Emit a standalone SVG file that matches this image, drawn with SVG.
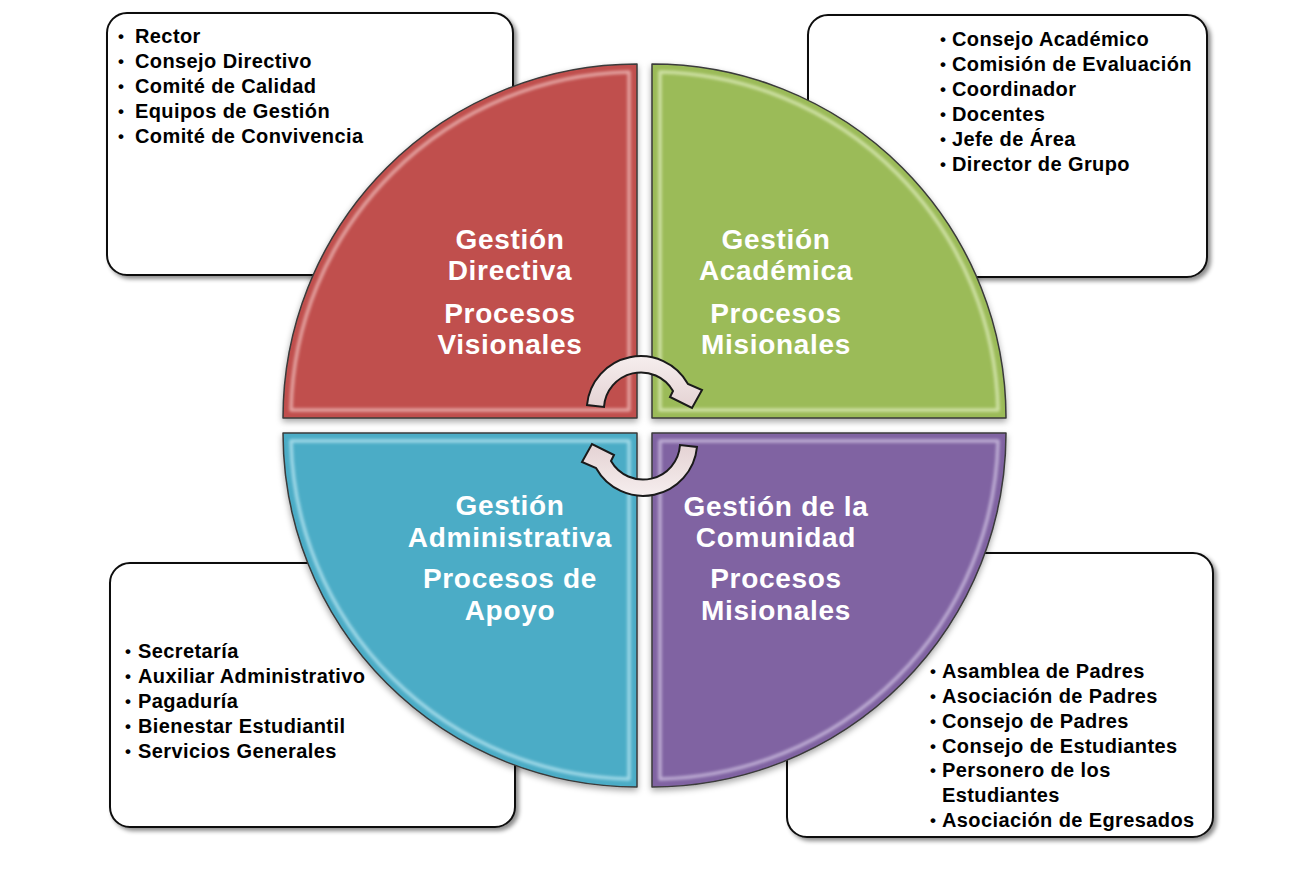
<svg xmlns="http://www.w3.org/2000/svg" width="1292" height="874" viewBox="0 0 1292 874">
  <defs>
    <filter id="boxShadow" x="-5%" y="-5%" width="112%" height="115%">
      <feDropShadow dx="3" dy="3" stdDeviation="2" flood-color="#000" flood-opacity="0.45"/>
    </filter>
    <filter id="quadShadow" x="-5%" y="-5%" width="112%" height="115%">
      <feDropShadow dx="0" dy="3" stdDeviation="3" flood-color="#000" flood-opacity="0.35"/>
    </filter>
    <filter id="soft" x="-5%" y="-5%" width="110%" height="110%">
      <feGaussianBlur stdDeviation="1.4"/>
    </filter>
    <linearGradient id="arrowFill" x1="0" y1="0" x2="0" y2="1">
      <stop offset="0" stop-color="#F6EEEE"/>
      <stop offset="1" stop-color="#E4D2D3"/>
    </linearGradient>
    <style>
      .box { fill: #FFFFFF; stroke: #111111; stroke-width: 2; filter: url(#boxShadow); }
      .item { font-family: "Liberation Sans", Arial, sans-serif; font-size: 20px; font-weight: bold; fill: #000000; letter-spacing: 0.4px; }
      .b { font-size: 17px; }
      .quad { stroke: #3a3a3a; stroke-width: 1.5; stroke-linejoin: round; filter: url(#quadShadow); }
      .hl { fill: none; stroke-width: 3.5; stroke-linejoin: round; opacity: 0.8; filter: url(#soft); }
      .title { font-family: "Liberation Sans", Arial, sans-serif; font-size: 28px; font-weight: bold; fill: #FFFFFF; letter-spacing: 0.7px; text-anchor: middle; }
      .arrow { fill: url(#arrowFill); stroke: #1a1a1a; stroke-width: 2; stroke-linejoin: miter; }
    </style>
  </defs>

  <!-- Lists boxes (behind quadrants) -->
  <g id="list-directiva">
    <rect class="box" x="107" y="13" width="406" height="262" rx="20" ry="20"/>
    <text class="item"><tspan class="b" x="118" y="42">•</tspan><tspan x="135" y="43">Rector</tspan></text>
    <text class="item"><tspan class="b" x="118" y="67">•</tspan><tspan x="135" y="68">Consejo Directivo</tspan></text>
    <text class="item"><tspan class="b" x="118" y="92">•</tspan><tspan x="135" y="93">Comité de Calidad</tspan></text>
    <text class="item"><tspan class="b" x="118" y="117">•</tspan><tspan x="135" y="118">Equipos de Gestión</tspan></text>
    <text class="item"><tspan class="b" x="118" y="142">•</tspan><tspan x="135" y="143">Comité de Convivencia</tspan></text>
  </g>

  <g id="list-academica">
    <rect class="box" x="808" y="15" width="399" height="262" rx="20" ry="20"/>
    <text class="item"><tspan class="b" x="940" y="45">•</tspan><tspan x="952" y="46">Consejo Académico</tspan></text>
    <text class="item"><tspan class="b" x="940" y="70">•</tspan><tspan x="952" y="71">Comisión de Evaluación</tspan></text>
    <text class="item"><tspan class="b" x="940" y="95">•</tspan><tspan x="952" y="96">Coordinador</tspan></text>
    <text class="item"><tspan class="b" x="940" y="120">•</tspan><tspan x="952" y="121">Docentes</tspan></text>
    <text class="item"><tspan class="b" x="940" y="145">•</tspan><tspan x="952" y="146">Jefe de Área</tspan></text>
    <text class="item"><tspan class="b" x="940" y="170">•</tspan><tspan x="952" y="171">Director de Grupo</tspan></text>
  </g>

  <g id="list-administrativa">
    <rect class="box" x="110" y="563" width="405" height="264" rx="20" ry="20"/>
    <text class="item"><tspan class="b" x="125" y="657">•</tspan><tspan x="138" y="658">Secretaría</tspan></text>
    <text class="item"><tspan class="b" x="125" y="682">•</tspan><tspan x="138" y="683">Auxiliar Administrativo</tspan></text>
    <text class="item"><tspan class="b" x="125" y="707">•</tspan><tspan x="138" y="708">Pagaduría</tspan></text>
    <text class="item"><tspan class="b" x="125" y="732">•</tspan><tspan x="138" y="733">Bienestar Estudiantil</tspan></text>
    <text class="item"><tspan class="b" x="125" y="757">•</tspan><tspan x="138" y="758">Servicios Generales</tspan></text>
  </g>

  <g id="list-comunidad">
    <rect class="box" x="787" y="553" width="426" height="284" rx="20" ry="20"/>
    <text class="item"><tspan class="b" x="930" y="677">•</tspan><tspan x="942" y="678">Asamblea de Padres</tspan></text>
    <text class="item"><tspan class="b" x="930" y="702">•</tspan><tspan x="942" y="703">Asociación de Padres</tspan></text>
    <text class="item"><tspan class="b" x="930" y="727">•</tspan><tspan x="942" y="728">Consejo de Padres</tspan></text>
    <text class="item"><tspan class="b" x="930" y="752">•</tspan><tspan x="942" y="753">Consejo de Estudiantes</tspan></text>
    <text class="item"><tspan class="b" x="930" y="776">•</tspan><tspan x="942" y="777">Personero de los</tspan></text>
    <text class="item"><tspan x="942" y="802">Estudiantes</tspan></text>
    <text class="item"><tspan class="b" x="930" y="826">•</tspan><tspan x="942" y="827">Asociación de Egresados</tspan></text>
  </g>

  <!-- Quadrants -->
  <g id="node-directiva">
    <path class="quad" fill="#C0504D" d="M637,418 L283,418 A354,354 0 0 1 637,64 Z"/>
    <path class="hl" stroke="#EDB8B6" d="M629,410 L291,410 A346,346 0 0 1 629,72 Z"/>
    <text class="title" x="510" y="249">Gestión</text>
    <text class="title" x="510" y="280">Directiva</text>
    <text class="title" x="510" y="323">Procesos</text>
    <text class="title" x="510" y="354">Visionales</text>
  </g>

  <g id="node-academica">
    <path class="quad" fill="#9BBB59" d="M652,418 L652,64 A354,354 0 0 1 1006,418 Z"/>
    <path class="hl" stroke="#DCEAB8" d="M660,410 L660,72 A346,346 0 0 1 998,410 Z"/>
    <text class="title" x="776" y="249">Gestión</text>
    <text class="title" x="776" y="280">Académica</text>
    <text class="title" x="776" y="323">Procesos</text>
    <text class="title" x="776" y="354">Misionales</text>
  </g>

  <g id="node-administrativa">
    <path class="quad" fill="#4BACC6" d="M637,433 L637,787 A354,354 0 0 1 283,433 Z"/>
    <path class="hl" stroke="#B5E4F0" d="M629,441 L629,779 A346,346 0 0 1 291,441 Z"/>
    <text class="title" x="510" y="515">Gestión</text>
    <text class="title" x="510" y="547">Administrativa</text>
    <text class="title" x="510" y="588">Procesos de</text>
    <text class="title" x="510" y="620">Apoyo</text>
  </g>

  <g id="node-comunidad">
    <path class="quad" fill="#8064A2" d="M652,433 L1006,433 A354,354 0 0 1 652,787 Z"/>
    <path class="hl" stroke="#CDBFE0" d="M660,441 L998,441 A346,346 0 0 1 660,779 Z"/>
    <text class="title" x="776" y="516">Gestión de la</text>
    <text class="title" x="776" y="547">Comunidad</text>
    <text class="title" x="776" y="588">Procesos</text>
    <text class="title" x="776" y="620">Misionales</text>
  </g>

  <!-- Circular arrows -->
  <g id="connectors">
    <path id="arrow-top" class="arrow" d="M587,405 A54,54 0 0 1 688,384 L702,390 L692,408 L670,397 L673,391 A37,37 0 0 0 604,407 Z"/>
    <path id="arrow-bottom" class="arrow" transform="rotate(180 642 426)" d="M587,405 A54,54 0 0 1 688,384 L702,390 L692,408 L670,397 L673,391 A37,37 0 0 0 604,407 Z"/>
  </g>
</svg>
